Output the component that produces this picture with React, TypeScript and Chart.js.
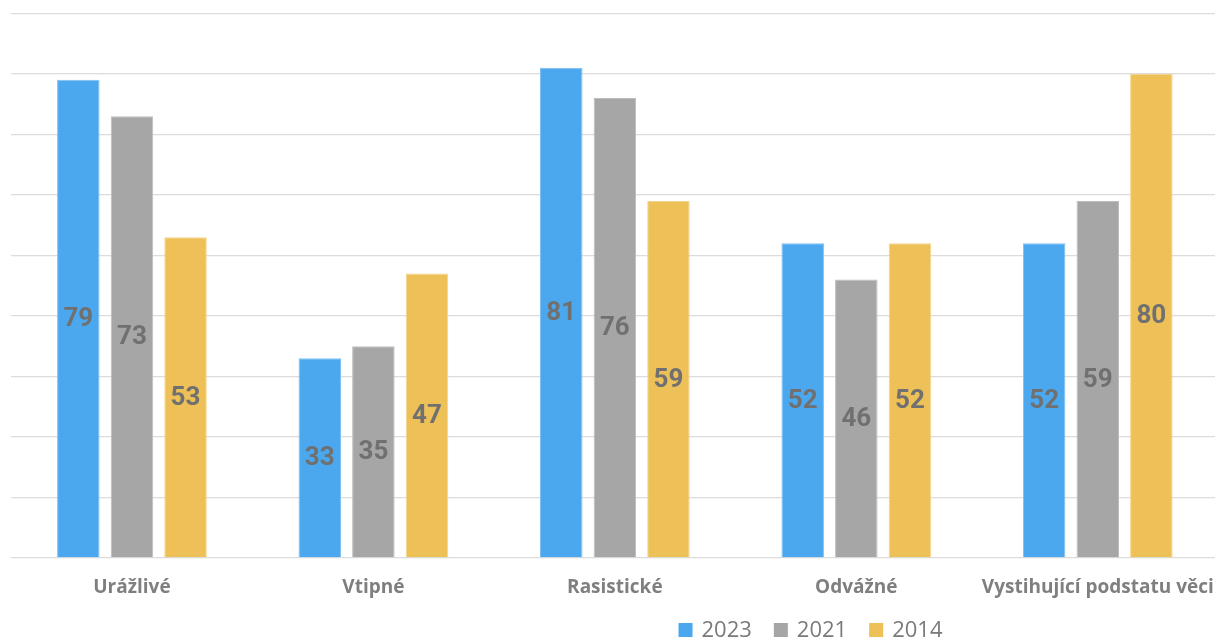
import React, { useEffect, useRef } from "react";
import { Chart, registerables } from "chart.js";

Chart.register(...registerables);

const categories = ["Urážlivé", "Vtipné", "Rasistické", "Odvážné", "Vystihující podstatu věci"];
const seriesLabels = ["2023", "2021", "2014"];
const values2023 = [79, 33, 81, 52, 52];
const values2021 = [73, 35, 76, 46, 59];
const values2014 = [53, 47, 59, 52, 80];
const seriesColors = ["#4BA8EE", "#A6A6A6", "#EEC158"];
const seriesBorders = ["#7DC0F3", "#BDBDBD", "#F3D38C"];
const yMin = 0;
const yMax = 90;
const yStep = 10;

const CANVAS_W = 1220;
const CANVAS_H = 639;

const dataLabelPlugin = {
  id: "dataLabels",
  afterDatasetsDraw(chart: any) {
    const ctx = chart.ctx;
    ctx.save();
    ctx.font = "bold 26px Roboto";
    ctx.fillStyle = "#707070";
    ctx.textAlign = "center";
    ctx.textBaseline = "middle";
    chart.data.datasets.forEach((ds: any, di: number) => {
      const meta = chart.getDatasetMeta(di);
      meta.data.forEach((el: any, i: number) => {
        const v = ds.data[i];
        const cy = (el.y + el.base) / 2;
        ctx.fillText(String(v), el.x, cy + 1);
      });
    });
    ctx.restore();
  },
};

const legendPlugin = {
  id: "customLegend",
  afterDraw(chart: any) {
    const ctx = chart.ctx;
    ctx.save();
    ctx.font = "22px 'Open Sans'";
    ctx.textBaseline = "middle";
    ctx.textAlign = "left";
    const box = 14;
    const boxGap = 9;
    const itemGap = 22;
    const items = chart.data.datasets.map((ds: any) => ({
      label: ds.label,
      color: ds.backgroundColor,
      w: ctx.measureText(ds.label).width,
    }));
    let total = 0;
    items.forEach((it: any, i: number) => {
      total += box + boxGap + it.w + (i < items.length - 1 ? itemGap : 0);
    });
    let x = 810.5 - total / 2;
    const cy = 630;
    items.forEach((it: any) => {
      ctx.fillStyle = it.color;
      ctx.fillRect(x, cy - box / 2, box, box);
      x += box + boxGap;
      ctx.fillStyle = "#7A7A7A";
      ctx.fillText(it.label, x, cy + 1);
      x += it.w + itemGap;
    });
    ctx.restore();
  },
};

export default function App() {
  const canvasRef = useRef<HTMLCanvasElement | null>(null);

  useEffect(() => {
    if (!canvasRef.current) return;
    const seriesValues = [values2023, values2021, values2014];
    const chart = new Chart(canvasRef.current, {
      type: "bar",
      data: {
        labels: categories,
        datasets: seriesLabels.map((label, i) => ({
          label,
          data: seriesValues[i],
          backgroundColor: seriesColors[i],
          borderColor: seriesBorders[i],
          borderWidth: 1,
          categoryPercentage: 0.666,
          barPercentage: 0.793,
        })),
      },
      options: {
        animation: false,
        responsive: false,
        maintainAspectRatio: false,
        devicePixelRatio: 1,
        layout: { padding: { left: 11.2, right: 1.5, top: 13.3, bottom: 0 } },
        plugins: {
          legend: { display: false },
          tooltip: { enabled: false },
          title: { display: false },
        },
        scales: {
          x: {
            grid: { display: false, drawTicks: false },
            border: { display: false },
            ticks: {
              padding: 18,
              maxRotation: 0,
              autoSkip: false,
              color: "#7F7F7F",
              font: { family: "'Open Sans'", size: 19, weight: "bold" },
            },
            afterFit: (scale: any) => {
              scale.height = 81;
              scale.paddingLeft = 0;
              scale.paddingRight = 0;
            },
          },
          y: {
            min: yMin,
            max: yMax,
            ticks: { display: false, stepSize: yStep },
            grid: { color: "#DCDCDC", lineWidth: 1.3, drawTicks: false },
            border: { display: false },
            afterFit: (scale: any) => {
              scale.width = 0;
              scale.paddingTop = 0;
              scale.paddingBottom = 0;
            },
          },
        },
      },
      plugins: [dataLabelPlugin, legendPlugin],
    });
    return () => chart.destroy();
  }, []);

  return (
    <div
      style={{
        position: "fixed",
        left: 0,
        top: 0,
        width: 1215,
        height: 639,
        overflow: "hidden",
        background: "#ffffff",
      }}
    >
      <canvas
        ref={canvasRef}
        width={CANVAS_W}
        height={CANVAS_H}
        style={{ position: "absolute", left: 0, top: 0, width: CANVAS_W, height: CANVAS_H, display: "block" }}
      />
    </div>
  );
}
